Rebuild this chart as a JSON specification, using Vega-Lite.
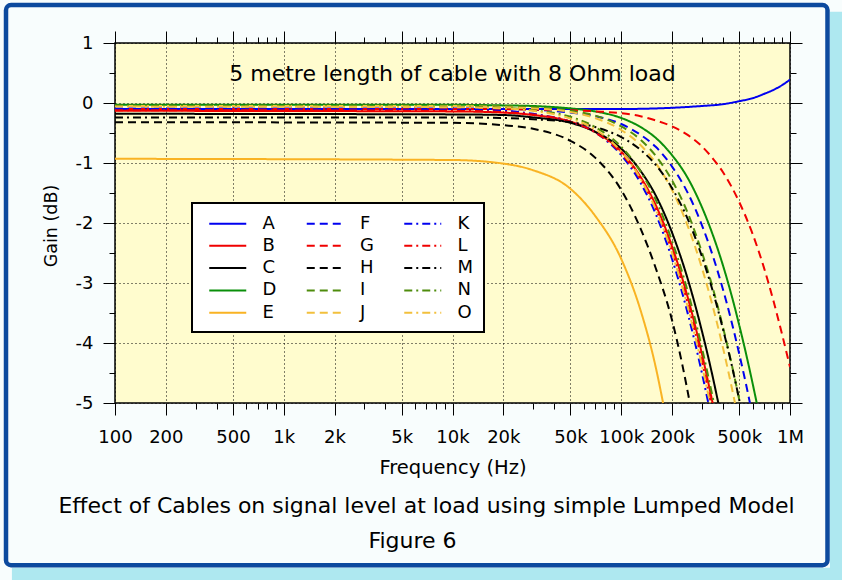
{
  "$schema": "https://vega.github.io/schema/vega-lite/v6.json",
  "width": 675,
  "height": 360,
  "autosize": {"type": "none"},
  "padding": {"left": 115, "top": 43, "right": 52, "bottom": 177},
  "background": "#f8fdfd",
  "config": {
    "font": "DejaVu Sans",
    "view": {"fill": "#fffcce", "stroke": "#000000", "strokeWidth": 1.5},
    "axis": {
      "labelFont": "DejaVu Sans", "titleFont": "DejaVu Sans",
      "labelColor": "#000000", "titleColor": "#000000", "tickColor": "#000000",
      "titleFontWeight": "normal", "labelFlush": false, "labelOverlap": false,
      "labelBound": false, "domain": false, "tickWidth": 1
    },
    "legend": {"strokeColor": "#000000", "strokeWidth": 2, "fillColor": "#ffffff"}
  },
  "resolve": {"axis": {"x": "independent", "y": "independent"}},
  "layer": [
    {
      "data": {"values": [{}]},
      "mark": {"type": "rect", "fill": "#aee8f0"},
      "encoding": {
        "x": {"datum": 1726000, "type": "quantitative", "scale": {"type": "log", "domain": [100, 1000000], "nice": false}, "axis": null},
        "x2": {"datum": 2040000},
        "y": {"datum": 1.52, "type": "quantitative", "scale": {"domain": [-5, 1], "nice": false, "zero": false}, "axis": null},
        "y2": {"datum": -7.95}
      }
    },
    {
      "data": {"values": [{}]},
      "mark": {"type": "rect", "fill": "#aee8f0"},
      "encoding": {
        "x": {"datum": 24.5, "type": "quantitative", "scale": {"type": "log", "domain": [100, 1000000], "nice": false}, "axis": null},
        "x2": {"datum": 2040000},
        "y": {"datum": -7.745, "type": "quantitative", "scale": {"domain": [-5, 1], "nice": false, "zero": false}, "axis": null},
        "y2": {"datum": -7.95}
      }
    },
    {
      "data": {"values": [{}]},
      "mark": {"type": "rect", "filled": false, "stroke": "#0d4a9e", "strokeWidth": 4.5, "cornerRadius": 5},
      "encoding": {
        "x": {"datum": 22.6, "type": "quantitative", "scale": {"type": "log", "domain": [100, 1000000], "nice": false}, "axis": null},
        "x2": {"datum": 1668000},
        "y": {"datum": 1.633, "type": "quantitative", "scale": {"domain": [-5, 1], "nice": false, "zero": false}, "axis": null},
        "y2": {"datum": -7.703}
      }
    },
    {
      "data": {"values": [{"t": "5 metre length of cable with 8 Ohm load"}]},
      "mark": {"type": "text", "fontSize": 22, "font": "DejaVu Sans", "align": "center", "baseline": "alphabetic", "color": "#000000"},
      "encoding": {
        "x": {"datum": 10000, "type": "quantitative", "scale": {"type": "log", "domain": [100, 1000000], "nice": false}, "axis": null},
        "y": {"datum": 0.37, "type": "quantitative", "scale": {"domain": [-5, 1], "nice": false, "zero": false}, "axis": null},
        "text": {"field": "t"}
      }
    },
    {
      "data": {"values": [{"t": "Gain (dB)"}]},
      "mark": {"type": "text", "fontSize": 17.5, "font": "DejaVu Sans", "align": "center", "baseline": "middle", "angle": 270, "color": "#000000"},
      "encoding": {
        "x": {"datum": 42.3, "type": "quantitative", "scale": {"type": "log", "domain": [100, 1000000], "nice": false}, "axis": null},
        "y": {"datum": -2.05, "type": "quantitative", "scale": {"domain": [-5, 1], "nice": false, "zero": false}, "axis": null},
        "text": {"field": "t"}
      }
    },
    {
      "data": {"values": [{"t": "Effect of Cables on signal level at load using simple Lumped Model"}]},
      "mark": {"type": "text", "fontSize": 22, "font": "DejaVu Sans", "align": "center", "baseline": "alphabetic", "color": "#000000"},
      "encoding": {
        "x": {"datum": 7015, "type": "quantitative", "scale": {"type": "log", "domain": [100, 1000000], "nice": false}, "axis": null},
        "y": {"datum": -6.828, "type": "quantitative", "scale": {"domain": [-5, 1], "nice": false, "zero": false}, "axis": null},
        "text": {"field": "t"}
      }
    },
    {
      "data": {"values": [{"t": "Figure 6"}]},
      "mark": {"type": "text", "fontSize": 22, "font": "DejaVu Sans", "align": "center", "baseline": "alphabetic", "color": "#000000"},
      "encoding": {
        "x": {"datum": 5795, "type": "quantitative", "scale": {"type": "log", "domain": [100, 1000000], "nice": false}, "axis": null},
        "y": {"datum": -7.412, "type": "quantitative", "scale": {"domain": [-5, 1], "nice": false, "zero": false}, "axis": null},
        "text": {"field": "t"}
      }
    },
    {
      "data": {"values": [{"f": 1000, "g": 0}]},
      "mark": {"type": "point", "opacity": 0},
      "encoding": {
        "x": {"field": "f", "type": "quantitative", "scale": {"type": "log", "domain": [100, 1000000], "nice": false},
          "axis": {"orient": "top", "values": [100, 200, 500, 1000, 2000, 5000, 10000, 20000, 50000, 100000, 200000, 500000, 1000000], "labels": false, "tickSize": 12, "grid": false, "title": null}},
        "y": {"field": "g", "type": "quantitative", "scale": {"domain": [-5, 1], "nice": false, "zero": false},
          "axis": {"orient": "right", "values": [-5, -4, -3, -2, -1, 0, 1], "labels": false, "tickSize": 12, "grid": false, "title": null}}
      }
    },
    {
      "data": {"values": [{"f": 1000, "g": 0}]},
      "mark": {"type": "point", "opacity": 0},
      "encoding": {
        "x": {"field": "f", "type": "quantitative", "scale": {"type": "log", "domain": [100, 1000000], "nice": false},
          "axis": {"orient": "bottom", "values": [300, 400, 600, 700, 800, 900, 3000, 4000, 6000, 7000, 8000, 9000, 30000, 40000, 60000, 70000, 80000, 90000, 300000, 400000, 600000, 700000, 800000, 900000], "labels": false, "tickSize": 6, "grid": false, "title": null}},
        "y": {"field": "g", "type": "quantitative", "scale": {"domain": [-5, 1], "nice": false, "zero": false},
          "axis": {"orient": "left", "values": [-4.5, -3.5, -2.5, -1.5, -0.5, 0.5], "labels": false, "tickSize": 6, "grid": false, "title": null}}
      }
    },
    {
      "data": {"values": [{"f": 1000, "g": 0}]},
      "mark": {"type": "point", "opacity": 0},
      "encoding": {
        "x": {"field": "f", "type": "quantitative", "scale": {"type": "log", "domain": [100, 1000000], "nice": false},
          "axis": {"orient": "top", "values": [300, 400, 600, 700, 800, 900, 3000, 4000, 6000, 7000, 8000, 9000, 30000, 40000, 60000, 70000, 80000, 90000, 300000, 400000, 600000, 700000, 800000, 900000], "labels": false, "tickSize": 6, "grid": false, "title": null}},
        "y": {"field": "g", "type": "quantitative", "scale": {"domain": [-5, 1], "nice": false, "zero": false},
          "axis": {"orient": "right", "values": [-4.5, -3.5, -2.5, -1.5, -0.5, 0.5], "labels": false, "tickSize": 6, "grid": false, "title": null}}
      }
    },
    {
      "data": {"values": [
        {"s":"A","f":100,"g":-0.10},{"s":"A","f":10000,"g":-0.10},{"s":"A","f":50000,"g":-0.10},{"s":"A","f":100000,"g":-0.10},{"s":"A","f":200000,"g":-0.08},{"s":"A","f":300000,"g":-0.05},{"s":"A","f":400000,"g":-0.02},{"s":"A","f":500000,"g":0.03},{"s":"A","f":600000,"g":0.08},{"s":"A","f":700000,"g":0.15},{"s":"A","f":800000,"g":0.22},{"s":"A","f":900000,"g":0.30},{"s":"A","f":1000000,"g":0.39},
        {"s":"B","f":100,"g":-0.13},{"s":"B","f":10000,"g":-0.14},{"s":"B","f":20000,"g":-0.16},{"s":"B","f":30000,"g":-0.20},{"s":"B","f":50000,"g":-0.31},{"s":"B","f":70000,"g":-0.48},{"s":"B","f":100000,"g":-0.81},{"s":"B","f":130000,"g":-1.23},{"s":"B","f":160000,"g":-1.70},{"s":"B","f":200000,"g":-2.39},{"s":"B","f":250000,"g":-3.28},{"s":"B","f":300000,"g":-4.17},{"s":"B","f":348000,"g":-5},
        {"s":"C","f":100,"g":-0.18},{"s":"C","f":10000,"g":-0.19},{"s":"C","f":20000,"g":-0.20},{"s":"C","f":30000,"g":-0.24},{"s":"C","f":50000,"g":-0.33},{"s":"C","f":70000,"g":-0.48},{"s":"C","f":100000,"g":-0.76},{"s":"C","f":130000,"g":-1.13},{"s":"C","f":160000,"g":-1.54},{"s":"C","f":200000,"g":-2.16},{"s":"C","f":250000,"g":-2.97},{"s":"C","f":300000,"g":-3.79},{"s":"C","f":350000,"g":-4.59},{"s":"C","f":376000,"g":-5},
        {"s":"D","f":100,"g":-0.03},{"s":"D","f":10000,"g":-0.03},{"s":"D","f":20000,"g":-0.04},{"s":"D","f":30000,"g":-0.05},{"s":"D","f":50000,"g":-0.09},{"s":"D","f":70000,"g":-0.14},{"s":"D","f":100000,"g":-0.25},{"s":"D","f":130000,"g":-0.40},{"s":"D","f":160000,"g":-0.58},{"s":"D","f":200000,"g":-0.87},{"s":"D","f":250000,"g":-1.27},{"s":"D","f":300000,"g":-1.73},{"s":"D","f":350000,"g":-2.21},{"s":"D","f":400000,"g":-2.70},{"s":"D","f":450000,"g":-3.20},{"s":"D","f":500000,"g":-3.70},{"s":"D","f":550000,"g":-4.19},{"s":"D","f":600000,"g":-4.67},{"s":"D","f":635000,"g":-5},
        {"s":"E","f":100,"g":-0.93},{"s":"E","f":10000,"g":-0.95},{"s":"E","f":20000,"g":-1.01},{"s":"E","f":30000,"g":-1.12},{"s":"E","f":50000,"g":-1.43},{"s":"E","f":70000,"g":-1.88},{"s":"E","f":100000,"g":-2.60},{"s":"E","f":130000,"g":-3.45},{"s":"E","f":160000,"g":-4.40},{"s":"E","f":177000,"g":-5},
        {"s":"F","f":100,"g":-0.09},{"s":"F","f":10000,"g":-0.09},{"s":"F","f":20000,"g":-0.10},{"s":"F","f":30000,"g":-0.11},{"s":"F","f":50000,"g":-0.16},{"s":"F","f":70000,"g":-0.22},{"s":"F","f":100000,"g":-0.35},{"s":"F","f":130000,"g":-0.53},{"s":"F","f":160000,"g":-0.73},{"s":"F","f":200000,"g":-1.06},{"s":"F","f":250000,"g":-1.52},{"s":"F","f":300000,"g":-2.03},{"s":"F","f":350000,"g":-2.56},{"s":"F","f":400000,"g":-3.10},{"s":"F","f":450000,"g":-3.64},{"s":"F","f":500000,"g":-4.18},{"s":"F","f":550000,"g":-4.70},{"s":"F","f":579000,"g":-5},
        {"s":"G","f":100,"g":-0.10},{"s":"G","f":10000,"g":-0.10},{"s":"G","f":50000,"g":-0.12},{"s":"G","f":70000,"g":-0.14},{"s":"G","f":100000,"g":-0.17},{"s":"G","f":130000,"g":-0.22},{"s":"G","f":160000,"g":-0.29},{"s":"G","f":200000,"g":-0.39},{"s":"G","f":250000,"g":-0.54},{"s":"G","f":300000,"g":-0.72},{"s":"G","f":350000,"g":-0.93},{"s":"G","f":400000,"g":-1.15},{"s":"G","f":500000,"g":-1.65},{"s":"G","f":600000,"g":-2.18},{"s":"G","f":700000,"g":-2.74},{"s":"G","f":800000,"g":-3.31},{"s":"G","f":900000,"g":-3.87},{"s":"G","f":1000000,"g":-4.40},
        {"s":"H","f":100,"g":-0.32},{"s":"H","f":10000,"g":-0.33},{"s":"H","f":20000,"g":-0.37},{"s":"H","f":30000,"g":-0.43},{"s":"H","f":50000,"g":-0.63},{"s":"H","f":70000,"g":-0.91},{"s":"H","f":100000,"g":-1.45},{"s":"H","f":130000,"g":-2.09},{"s":"H","f":160000,"g":-2.75},{"s":"H","f":200000,"g":-3.62},{"s":"H","f":230000,"g":-4.36},{"s":"H","f":255000,"g":-5},
        {"s":"I","f":100,"g":-0.04},{"s":"I","f":10000,"g":-0.04},{"s":"I","f":20000,"g":-0.05},{"s":"I","f":30000,"g":-0.07},{"s":"I","f":50000,"g":-0.13},{"s":"I","f":70000,"g":-0.21},{"s":"I","f":100000,"g":-0.39},{"s":"I","f":130000,"g":-0.61},{"s":"I","f":160000,"g":-0.88},{"s":"I","f":200000,"g":-1.29},{"s":"I","f":250000,"g":-1.86},{"s":"I","f":300000,"g":-2.48},{"s":"I","f":350000,"g":-3.10},{"s":"I","f":400000,"g":-3.73},{"s":"I","f":450000,"g":-4.34},{"s":"I","f":505000,"g":-5},
        {"s":"J","f":100,"g":-0.05},{"s":"J","f":10000,"g":-0.05},{"s":"J","f":20000,"g":-0.07},{"s":"J","f":30000,"g":-0.09},{"s":"J","f":50000,"g":-0.15},{"s":"J","f":70000,"g":-0.25},{"s":"J","f":100000,"g":-0.45},{"s":"J","f":130000,"g":-0.70},{"s":"J","f":160000,"g":-1.00},{"s":"J","f":200000,"g":-1.45},{"s":"J","f":250000,"g":-2.08},{"s":"J","f":300000,"g":-2.74},{"s":"J","f":350000,"g":-3.41},{"s":"J","f":400000,"g":-4.07},{"s":"J","f":450000,"g":-4.72},{"s":"J","f":472000,"g":-5},
        {"s":"K","f":100,"g":-0.10},{"s":"K","f":10000,"g":-0.11},{"s":"K","f":20000,"g":-0.13},{"s":"K","f":30000,"g":-0.18},{"s":"K","f":50000,"g":-0.31},{"s":"K","f":70000,"g":-0.49},{"s":"K","f":100000,"g":-0.87},{"s":"K","f":130000,"g":-1.33},{"s":"K","f":160000,"g":-1.85},{"s":"K","f":200000,"g":-2.60},{"s":"K","f":250000,"g":-3.55},{"s":"K","f":300000,"g":-4.49},{"s":"K","f":328000,"g":-5},
        {"s":"L","f":100,"g":-0.12},{"s":"L","f":10000,"g":-0.13},{"s":"L","f":20000,"g":-0.15},{"s":"L","f":30000,"g":-0.19},{"s":"L","f":50000,"g":-0.31},{"s":"L","f":70000,"g":-0.49},{"s":"L","f":100000,"g":-0.84},{"s":"L","f":130000,"g":-1.27},{"s":"L","f":160000,"g":-1.76},{"s":"L","f":200000,"g":-2.47},{"s":"L","f":250000,"g":-3.38},{"s":"L","f":300000,"g":-4.29},{"s":"L","f":340000,"g":-5},
        {"s":"M","f":100,"g":-0.24},{"s":"M","f":10000,"g":-0.24},{"s":"M","f":20000,"g":-0.25},{"s":"M","f":30000,"g":-0.27},{"s":"M","f":50000,"g":-0.32},{"s":"M","f":70000,"g":-0.40},{"s":"M","f":100000,"g":-0.57},{"s":"M","f":130000,"g":-0.78},{"s":"M","f":160000,"g":-1.03},{"s":"M","f":200000,"g":-1.42},{"s":"M","f":250000,"g":-1.96},{"s":"M","f":300000,"g":-2.55},{"s":"M","f":350000,"g":-3.15},{"s":"M","f":400000,"g":-3.76},{"s":"M","f":450000,"g":-4.35},{"s":"M","f":505000,"g":-5},
        {"s":"N","f":100,"g":-0.05},{"s":"N","f":10000,"g":-0.06},{"s":"N","f":20000,"g":-0.08},{"s":"N","f":30000,"g":-0.12},{"s":"N","f":50000,"g":-0.23},{"s":"N","f":70000,"g":-0.40},{"s":"N","f":100000,"g":-0.73},{"s":"N","f":130000,"g":-1.14},{"s":"N","f":160000,"g":-1.61},{"s":"N","f":200000,"g":-2.30},{"s":"N","f":250000,"g":-3.18},{"s":"N","f":300000,"g":-4.07},{"s":"N","f":354000,"g":-5},
        {"s":"O","f":100,"g":-0.06},{"s":"O","f":10000,"g":-0.07},{"s":"O","f":20000,"g":-0.09},{"s":"O","f":30000,"g":-0.13},{"s":"O","f":50000,"g":-0.26},{"s":"O","f":70000,"g":-0.44},{"s":"O","f":100000,"g":-0.81},{"s":"O","f":130000,"g":-1.26},{"s":"O","f":160000,"g":-1.77},{"s":"O","f":200000,"g":-2.50},{"s":"O","f":250000,"g":-3.44},{"s":"O","f":300000,"g":-4.36},{"s":"O","f":336000,"g":-5}
      ]},
      "mark": {"type": "line", "strokeWidth": 2, "interpolate": "monotone", "clip": true},
      "encoding": {
        "x": {"field": "f", "type": "quantitative", "scale": {"type": "log", "domain": [100, 1000000], "nice": false},
          "axis": {"orient": "bottom", "values": [100, 200, 500, 1000, 2000, 5000, 10000, 20000, 50000, 100000, 200000, 500000, 1000000],
            "labelExpr": "datum.value >= 1000000 ? (datum.value / 1000000) + 'M' : datum.value >= 1000 ? (datum.value / 1000) + 'k' : '' + datum.value",
            "labelFontSize": 18, "labelPadding": 13, "tickSize": 12,
            "grid": true, "gridColor": "#000000", "gridDash": [1, 3], "gridWidth": 1, "gridOpacity": 1,
            "title": "Frequency (Hz)", "titleFontSize": 19.5, "titlePadding": 12}},
        "y": {"field": "g", "type": "quantitative", "scale": {"domain": [-5, 1], "nice": false, "zero": false},
          "axis": {"orient": "left", "values": [-5, -4, -3, -2, -1, 0, 1], "labelExpr": "'' + datum.value",
            "labelFontSize": 18, "labelPadding": 10, "tickSize": 12,
            "grid": true, "gridColor": "#000000", "gridDash": [1, 3], "gridWidth": 1, "gridOpacity": 1,
            "title": null}},
        "color": {"field": "s", "type": "nominal",
          "scale": {"domain": ["A","B","C","D","E","F","G","H","I","J","K","L","M","N","O"],
            "range": ["#0000f0","#f00000","#000000","#0a8f0a","#f9b323","#0000f0","#f00000","#000000","#4e8c0c","#f2c03c","#0000f0","#f00000","#000000","#4e8c0c","#f2c03c"]},
          "legend": {"title": null, "orient": "none", "legendX": 77, "legendY": 160, "columns": 3,
            "symbolType": "M-1,0H3", "symbolSize": 342.25, "symbolStrokeWidth": 2, "symbolOffset": 6,
            "labelFontSize": 18, "labelFont": "DejaVu Sans", "labelColor": "#000000", "labelOffset": 33.5,
            "columnPadding": 22.5, "rowPadding": 2.3, "padding": 10}},
        "strokeDash": {"field": "s", "type": "nominal",
          "scale": {"domain": ["A","B","C","D","E","F","G","H","I","J","K","L","M","N","O"],
            "range": [[1,0],[1,0],[1,0],[1,0],[1,0],[8,5],[8,5],[8,5],[8,5],[8,5],[8,4,2,4],[8,4,2,4],[8,4,2,4],[8,4,2,4],[8,4,2,4]]},
          "legend": {"title": null}}
      }
    }
  ]
}
